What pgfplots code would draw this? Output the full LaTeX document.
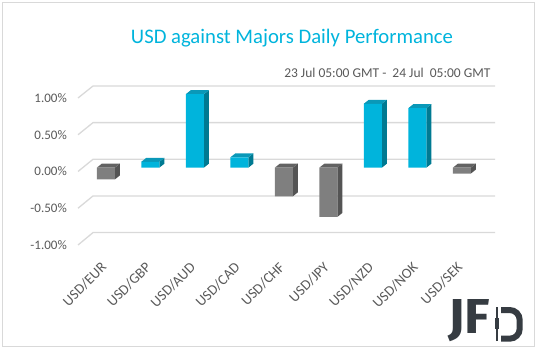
\documentclass[border=0pt]{standalone}
\usepackage{pgfplots}
\pgfplotsset{compat=1.18}
\usepackage{fontspec}
\setmainfont{Carlito}
\definecolor{cyF}{HTML}{00B4DC}
\definecolor{cyS}{HTML}{007A92}
\definecolor{cyT}{HTML}{0A98B8}
\definecolor{gyF}{HTML}{7F7F7F}
\definecolor{gyS}{HTML}{545454}
\definecolor{gyT}{HTML}{626262}
\definecolor{txt}{HTML}{595959}
\definecolor{gridc}{HTML}{D9D9D9}
\definecolor{logo}{HTML}{363C42}
\begin{document}
\begin{tikzpicture}
\useasboundingbox (0pt,0pt) rectangle (538pt,351pt);
\draw[gridc, line width=1pt] (2.5pt,4.5pt) rectangle (534pt,348.5pt);
% back wall grid
\foreach \v in {-1,-0.5,0,0.5,1} {
  \pgfmathsetmacro\yb{351-159.3+73.3*\v}
  \pgfmathsetmacro\yf{351-171.5+73.5*\v}
  \draw[gridc, line width=1.3pt] (78pt,\yf pt) -- (93pt,\yb pt) -- (495pt,\yb pt);
}
\begin{axis}[
  at={(83pt,109.8pt)}, anchor=south west,
  scale only axis, width=402pt, height=147pt,
  xmin=-0.512, xmax=8.521, ymin=-1, ymax=1,
  clip=false,
  axis line style={draw=none},
  major tick length=0pt,
  xtick={0,...,8},
  xticklabels={USD/EUR,USD/GBP,USD/AUD,USD/CAD,USD/CHF,USD/JPY,USD/NZD,USD/NOK,USD/SEK},
  ytick={-1,-0.5,0,0.5,1},
  yticklabels={-1.00\%,-0.50\%,0.00\%,0.50\%,1.00\%},
  yticklabel style={inner sep=0pt, anchor=east, xshift=-16pt, yshift=-3.8pt, text=txt, font=\fontsize{13}{15}\selectfont},
  xticklabel style={inner sep=0pt, rotate=45, anchor=north east, xshift=-18pt, yshift=-10pt, text=txt, font=\fontsize{14.5}{16}\selectfont},
]
% side faces
\addplot[fill=gyS, draw=none] coordinates {(0.2025,0)(0.3145,0.054)(0.3145,-0.106)(0.2025,-0.16)} -- cycle;
\addplot[fill=cyS, draw=none] coordinates {(1.2025,0)(1.3145,0.054)(1.3145,0.134)(1.2025,0.08)} -- cycle;
\addplot[fill=cyS, draw=none] coordinates {(2.2025,0)(2.3145,0.054)(2.3145,1.054)(2.2025,1.00)} -- cycle;
\addplot[fill=cyS, draw=none] coordinates {(3.2025,0)(3.3145,0.054)(3.3145,0.194)(3.2025,0.14)} -- cycle;
\addplot[fill=gyS, draw=none] coordinates {(4.2025,0)(4.3145,0.054)(4.3145,-0.336)(4.2025,-0.39)} -- cycle;
\addplot[fill=gyS, draw=none] coordinates {(5.2025,0)(5.3145,0.054)(5.3145,-0.616)(5.2025,-0.67)} -- cycle;
\addplot[fill=cyS, draw=none] coordinates {(6.2025,0)(6.3145,0.054)(6.3145,0.924)(6.2025,0.87)} -- cycle;
\addplot[fill=cyS, draw=none] coordinates {(7.2025,0)(7.3145,0.054)(7.3145,0.864)(7.2025,0.81)} -- cycle;
\addplot[fill=gyS, draw=none] coordinates {(8.2025,0)(8.3145,0.054)(8.3145,-0.026)(8.2025,-0.08)} -- cycle;
% top faces
\addplot[fill=gyT, draw=none] coordinates {(-0.2025,0)(0.2025,0)(0.3145,0.054)(-0.0905,0.054)} -- cycle;
\addplot[fill=cyT, draw=none] coordinates {(0.7975,0.08)(1.2025,0.08)(1.3145,0.134)(0.9095,0.134)} -- cycle;
\addplot[fill=cyT, draw=none] coordinates {(1.7975,1)(2.2025,1)(2.3145,1.054)(1.9095,1.054)} -- cycle;
\addplot[fill=cyT, draw=none] coordinates {(2.7975,0.14)(3.2025,0.14)(3.3145,0.194)(2.9095,0.194)} -- cycle;
\addplot[fill=gyT, draw=none] coordinates {(3.7975,0)(4.2025,0)(4.3145,0.054)(3.9095,0.054)} -- cycle;
\addplot[fill=gyT, draw=none] coordinates {(4.7975,0)(5.2025,0)(5.3145,0.054)(4.9095,0.054)} -- cycle;
\addplot[fill=cyT, draw=none] coordinates {(5.7975,0.87)(6.2025,0.87)(6.3145,0.924)(5.9095,0.924)} -- cycle;
\addplot[fill=cyT, draw=none] coordinates {(6.7975,0.81)(7.2025,0.81)(7.3145,0.864)(6.9095,0.864)} -- cycle;
\addplot[fill=gyT, draw=none] coordinates {(7.7975,0)(8.2025,0)(8.3145,0.054)(7.9095,0.054)} -- cycle;
% front faces
\addplot[ybar, bar width=0.405, fill=cyF, draw=none] coordinates {(1,0.08)(2,1.00)(3,0.14)(6,0.87)(7,0.81)};
\addplot[ybar, bar width=0.405, fill=gyF, draw=none] coordinates {(0,-0.16)(4,-0.39)(5,-0.67)(8,-0.08)};
\end{axis}
% titles
\node[text=cyF, font=\fontsize{20.7}{24}\selectfont] at (292pt,313pt) {USD against Majors Daily Performance};
\node[text=txt, anchor=east, inner sep=0pt, font=\fontsize{13.5}{16}\selectfont] at (490.7pt,277.7pt) {23 Jul 05:00 GMT -\ \ 24 Jul\ \ 05:00 GMT};
% logo
\node[anchor=south west, inner sep=0pt, text=logo] at (448pt,9.3pt) {\resizebox{42pt}{34pt}{\fontspec{Fira Sans}\bfseries JF}};
\draw[logo, line width=1.6pt] (496.8pt,10pt) -- (496.8pt,44pt);
\fill[logo] (494.6pt,22pt) rectangle (499pt,33.5pt);
\draw[logo, line width=6pt, rounded corners=10pt] (501pt,41pt) -- (519.7pt,41pt) -- (519.7pt,12.3pt) -- (501pt,12.3pt);
\end{tikzpicture}
\end{document}
